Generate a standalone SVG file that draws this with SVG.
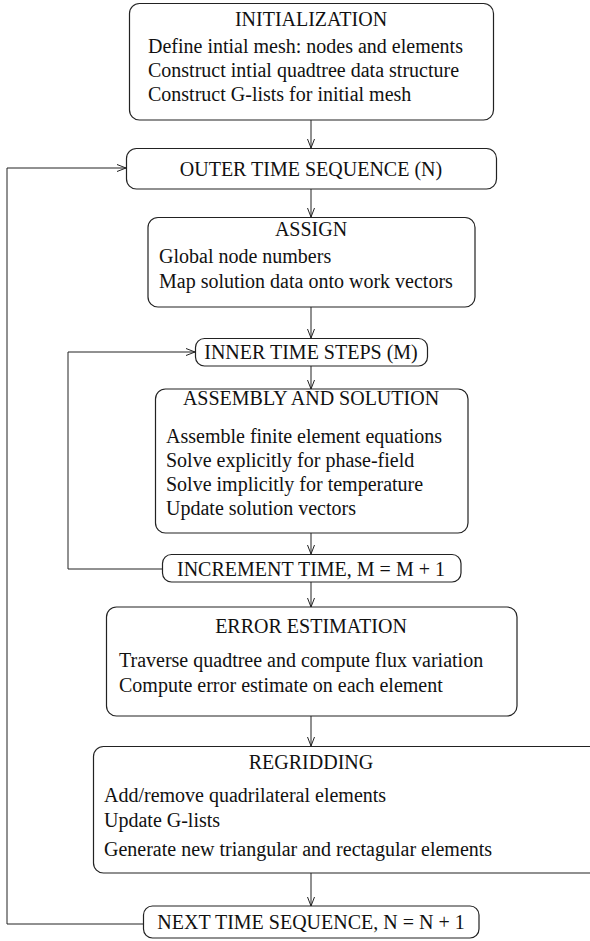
<svg xmlns="http://www.w3.org/2000/svg" width="590" height="941" viewBox="0 0 590 941">
<defs>
<marker id="arr" markerWidth="12" markerHeight="10" refX="10" refY="5" orient="auto" markerUnits="userSpaceOnUse">
<path d="M1,1.5 L10,5 L1,8.5" fill="none" stroke="#222" stroke-width="1"/>
</marker>
<style>
rect{fill:#fff;stroke:#222;stroke-width:1.2}
text{font-family:"Liberation Serif","Times New Roman",serif;font-size:20px;fill:#111}
.c{text-anchor:middle}
.ln{fill:none;stroke:#222;stroke-width:1}
</style>
</defs>
<rect x="0" y="0" width="590" height="941" style="fill:#fff;stroke:none"/>
<g id="connectors">
<line class="ln" x1="311" y1="120" x2="311" y2="148" marker-end="url(#arr)"/>
<line class="ln" x1="311" y1="189" x2="311" y2="217" marker-end="url(#arr)"/>
<line class="ln" x1="311" y1="307" x2="311" y2="338" marker-end="url(#arr)"/>
<line class="ln" x1="311" y1="366" x2="311" y2="389" marker-end="url(#arr)"/>
<line class="ln" x1="311" y1="533" x2="311" y2="554" marker-end="url(#arr)"/>
<line class="ln" x1="311" y1="582" x2="311" y2="607" marker-end="url(#arr)"/>
<line class="ln" x1="311" y1="716" x2="311" y2="746" marker-end="url(#arr)"/>
<line class="ln" x1="311" y1="873" x2="311" y2="906" marker-end="url(#arr)"/>
<polyline class="ln" points="162,569 68,569 68,352 195,352" marker-end="url(#arr)"/>
<polyline class="ln" points="143,924 7,924 7,168 126,168" marker-end="url(#arr)"/>
</g>
<g id="init">
<rect x="129.5" y="3.5" width="364" height="116.5" rx="10"/>
<text class="c" x="311" y="26">INITIALIZATION</text>
<text x="148" y="53">Define intial mesh: nodes and elements</text>
<text x="148" y="77">Construct intial quadtree data structure</text>
<text x="148" y="101">Construct G-lists for initial mesh</text>
</g>
<g id="outer">
<rect x="126.5" y="148.5" width="370" height="40.5" rx="10"/>
<text class="c" x="311" y="176">OUTER TIME SEQUENCE (N)</text>
</g>
<g id="assign">
<rect x="148" y="217.5" width="327" height="89.5" rx="10"/>
<text class="c" x="311" y="236">ASSIGN</text>
<text x="159" y="263">Global node numbers</text>
<text x="159" y="288">Map solution data onto work vectors</text>
</g>
<g id="inner">
<rect x="195.5" y="338.5" width="232" height="27.5" rx="9"/>
<text class="c" x="311" y="359">INNER TIME STEPS (M)</text>
</g>
<g id="assembly">
<rect x="155.5" y="389" width="312.5" height="144" rx="10"/>
<text class="c" x="311" y="405">ASSEMBLY AND SOLUTION</text>
<text x="166" y="443">Assemble finite element equations</text>
<text x="166" y="467">Solve explicitly for phase-field</text>
<text x="166" y="491">Solve implicitly for temperature</text>
<text x="166" y="515">Update solution vectors</text>
</g>
<g id="increment">
<rect x="162.5" y="554.5" width="298.5" height="27.5" rx="9"/>
<text class="c" x="311" y="576">INCREMENT TIME, M = M + 1</text>
</g>
<g id="error">
<rect x="106.5" y="607" width="410.5" height="109" rx="10"/>
<text class="c" x="311" y="633">ERROR ESTIMATION</text>
<text x="119" y="667">Traverse quadtree and compute flux variation</text>
<text x="119" y="692">Compute error estimate on each element</text>
</g>
<g id="regrid">
<rect x="93.5" y="746.5" width="520" height="126.5" rx="10"/>
<text class="c" x="311" y="769">REGRIDDING</text>
<text x="104" y="802">Add/remove quadrilateral elements</text>
<text x="104" y="827">Update G-lists</text>
<text x="104" y="856">Generate new triangular and rectagular elements</text>
</g>
<g id="next">
<rect x="143.5" y="906" width="335.5" height="32" rx="9"/>
<text class="c" x="311" y="929">NEXT TIME SEQUENCE, N = N + 1</text>
</g>
</svg>
